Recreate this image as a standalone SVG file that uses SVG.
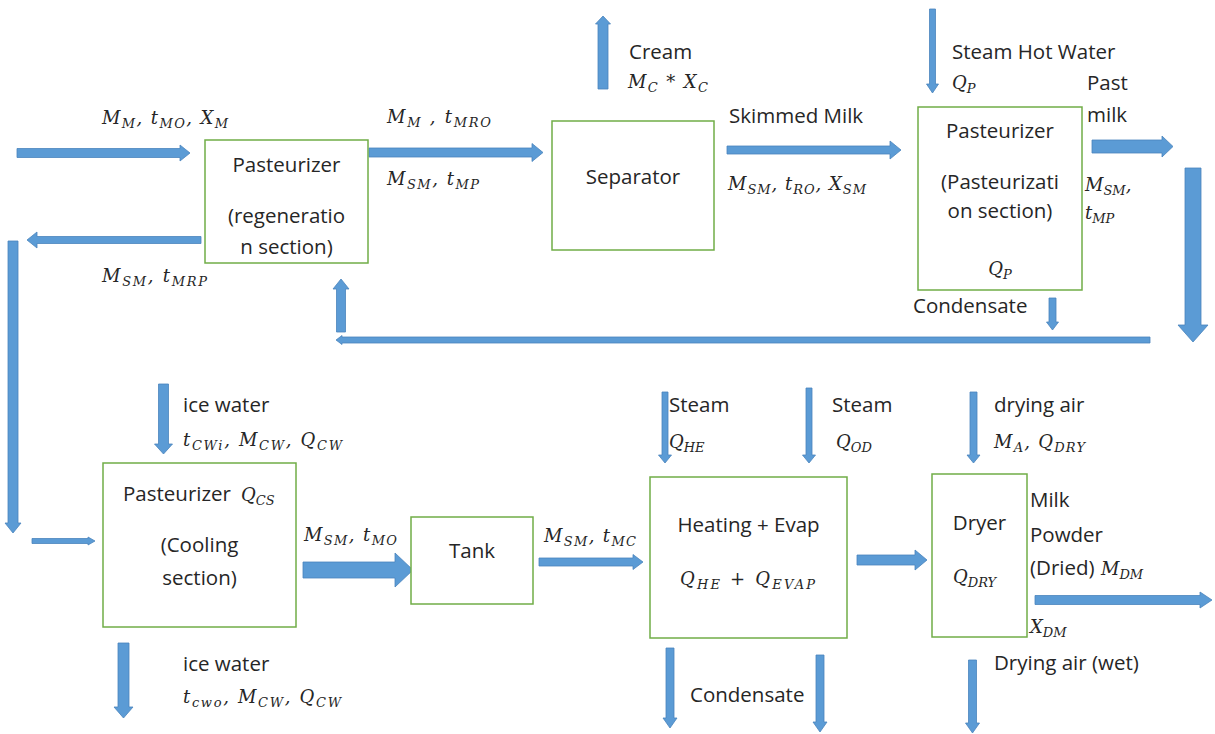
<svg xmlns="http://www.w3.org/2000/svg" width="1215" height="734" viewBox="0 0 1215 734">
<style>
.bg{fill:#ffffff}
.box{fill:#ffffff;stroke:#70AD47;stroke-width:1.5}
.arr{fill:#5B9BD5;stroke:#4A84BC;stroke-width:0.8;stroke-linejoin:miter}
.t{font-family:"Open Sans","Liberation Sans",sans-serif;font-size:20.5px;fill:#262626}
.c{text-anchor:middle}
.m{font-family:"DejaVu Serif","Liberation Serif",serif;font-style:italic;font-size:18px;fill:#262626}
.s{font-size:13px}
</style>
<rect class="bg" x="0" y="0" width="1215" height="734"/>

<g id="connectors">
  <polygon class="arr" points="17,148.5 180,148.5 180,145 190,153 180,161 180,157.5 17,157.5"/>
  <polygon class="arr" points="369,148 532,148 532,143.5 543,152.5 532,161.5 532,157 369,157"/>
  <polygon class="arr" points="727,146 890,146 890,141 901,150 890,159 890,154 727,154"/>
  <polygon class="arr" points="598,89 608,89 608,24 610.5,24 603,16 595.5,24 598,24"/>
  <polygon class="arr" points="929.5,9 935.5,9 935.5,84 938.5,84 932.5,93 926.5,84 929.5,84"/>
  <polygon class="arr" points="1092,140 1162,140 1162,136 1173,146.5 1162,157 1162,153 1092,153"/>
  <polygon class="arr" points="1185,168 1201,168 1201,325 1208,325 1193,342 1178,325 1185,325"/>
  <polygon class="arr" points="1049,298 1056,298 1056,322 1058.5,322 1052.5,330 1046.5,322 1049,322"/>
  <polygon class="arr" points="1150,337 342,337 342,335.5 336,340 342,344.5 342,343 1150,343"/>
  <polygon class="arr" points="336.5,332 345.5,332 345.5,289 349,289 341,279 333,289 336.5,289"/>
  <polygon class="arr" points="201,236.5 37,236.5 37,232 27,240 37,248 37,243.5 201,243.5"/>
  <polygon class="arr" points="8,241 18,241 18,523 21,523 13,533 5,523 8,523"/>
  <polygon class="arr" points="32,538.5 88,538.5 88,537 95,541 88,545 88,543.5 32,543.5"/>
  <polygon class="arr" points="158.5,384 168.5,384 168.5,444 172.5,444 163.5,454 154.5,444 158.5,444"/>
  <polygon class="arr" points="118,643 129,643 129,707 133,707 123.5,718 114,707 118,707"/>
  <polygon class="arr" points="303,562 395,562 395,553 413,570 395,587 395,578 303,578"/>
  <polygon class="arr" points="539,558 633,558 633,554.5 643,562 633,569.5 633,566 539,566"/>
  <polygon class="arr" points="662,392 668,392 668,455 671.5,455 665,463 658.5,455 662,455"/>
  <polygon class="arr" points="806,388 812,388 812,455 815.5,455 809,463 802.5,455 806,455"/>
  <polygon class="arr" points="857,555 915,555 915,550 927,560 915,570 915,565 857,565"/>
  <polygon class="arr" points="970,392 977,392 977,455 980,455 973.5,463 967,455 970,455"/>
  <polygon class="arr" points="1035,595.5 1200,595.5 1200,592 1212,600 1200,608 1200,604.5 1035,604.5"/>
  <polygon class="arr" points="666,648 674,648 674,718 677,718 670,728 663,718 666,718"/>
  <polygon class="arr" points="816,655 824,655 824,722 827,722 820,732 813,722 816,722"/>
  <polygon class="arr" points="968.5,660 976.5,660 976.5,723 979.5,723 972.5,733 965.5,723 968.5,723"/>
</g>

<g id="labels">
  <text class="m" x="102" y="124" textLength="126" lengthAdjust="spacing">M<tspan class="s" dy="4">M</tspan><tspan dy="-4">, t</tspan><tspan class="s" dy="4">MO</tspan><tspan dy="-4">, X</tspan><tspan class="s" dy="4">M</tspan></text>
  <text class="m" x="387" y="123" textLength="104" lengthAdjust="spacing">M<tspan class="s" dy="4">M</tspan><tspan dy="-4"> , t</tspan><tspan class="s" dy="4">MRO</tspan></text>
  <text class="m" x="387" y="185" textLength="92" lengthAdjust="spacing">M<tspan class="s" dy="4">SM</tspan><tspan dy="-4">, t</tspan><tspan class="s" dy="4">MP</tspan></text>
  <text class="t" x="629" y="59">Cream</text>
  <text class="m" x="628" y="88" textLength="80" lengthAdjust="spacing">M<tspan class="s" dy="4">C</tspan><tspan dy="-4"> * X</tspan><tspan class="s" dy="4">C</tspan></text>
  <text class="t" x="729" y="123">Skimmed Milk</text>
  <text class="m" x="728" y="190" textLength="138" lengthAdjust="spacing">M<tspan class="s" dy="4">SM</tspan><tspan dy="-4">, t</tspan><tspan class="s" dy="4">RO</tspan><tspan dy="-4">, X</tspan><tspan class="s" dy="4">SM</tspan></text>
  <text class="t" x="952" y="59">Steam Hot Water</text>
  <text class="m" x="952" y="89">Q<tspan class="s" dy="4">P</tspan></text>
  <text class="t" x="1087" y="90">Past</text>
  <text class="t" x="1087" y="122">milk</text>
  <text class="m" x="1085" y="191">M<tspan class="s" dy="4">SM</tspan><tspan dy="-4">,</tspan></text>
  <text class="m" x="1085" y="219">t<tspan class="s" dy="4">MP</tspan></text>
  <text class="t" x="913" y="313">Condensate</text>
  <text class="m" x="102" y="282" textLength="105" lengthAdjust="spacing">M<tspan class="s" dy="4">SM</tspan><tspan dy="-4">, t</tspan><tspan class="s" dy="4">MRP</tspan></text>
  <text class="t" x="183" y="412">ice water</text>
  <text class="m" x="183" y="446" textLength="159" lengthAdjust="spacing">t<tspan class="s" dy="4">CWi</tspan><tspan dy="-4">, M</tspan><tspan class="s" dy="4">CW</tspan><tspan dy="-4">, Q</tspan><tspan class="s" dy="4">CW</tspan></text>
  <text class="m" x="304" y="541" textLength="93" lengthAdjust="spacing">M<tspan class="s" dy="4">SM</tspan><tspan dy="-4">, t</tspan><tspan class="s" dy="4">MO</tspan></text>
  <text class="t" x="183" y="671">ice water</text>
  <text class="m" x="183" y="703" textLength="158" lengthAdjust="spacing">t<tspan class="s" dy="4">cwo</tspan><tspan dy="-4">, M</tspan><tspan class="s" dy="4">CW</tspan><tspan dy="-4">, Q</tspan><tspan class="s" dy="4">CW</tspan></text>
  <text class="m" x="544" y="542" textLength="92" lengthAdjust="spacing">M<tspan class="s" dy="4">SM</tspan><tspan dy="-4">, t</tspan><tspan class="s" dy="4">MC</tspan></text>
  <text class="t" x="669" y="412">Steam</text>
  <text class="m" x="669" y="448">Q<tspan class="s" dy="4">HE</tspan></text>
  <text class="t" x="832" y="412">Steam</text>
  <text class="m" x="836" y="448">Q<tspan class="s" dy="4">OD</tspan></text>
  <text class="t" x="690" y="702">Condensate</text>
  <text class="t" x="994" y="412">drying air</text>
  <text class="m" x="994" y="448" textLength="91" lengthAdjust="spacing">M<tspan class="s" dy="4">A</tspan><tspan dy="-4">, Q</tspan><tspan class="s" dy="4">DRY</tspan></text>
  <text class="t" x="1030" y="507">Milk</text>
  <text class="t" x="1030" y="542">Powder</text>
  <text class="t" x="1030" y="575">(Dried)</text>
  <text class="m" x="1101" y="575">M<tspan class="s" dy="4">DM</tspan></text>
  <text class="m" x="1030" y="633">X<tspan class="s" dy="4">DM</tspan></text>
  <text class="t" x="994" y="670">Drying air (wet)</text>
</g>

<g id="pasteurizer-regeneration">
  <rect class="box" x="205" y="140" width="163" height="123"/>
  <text class="t c" x="286.5" y="172">Pasteurizer</text>
  <text class="t c" x="286.5" y="223">(regeneratio</text>
  <text class="t c" x="286.5" y="254">n section)</text>
</g>

<g id="separator">
  <rect class="box" x="552" y="121" width="162" height="129"/>
  <text class="t c" x="633" y="184">Separator</text>
</g>

<g id="pasteurizer-pasteurization">
  <rect class="box" x="918" y="107" width="164" height="183"/>
  <text class="t c" x="1000" y="138">Pasteurizer</text>
  <text class="t c" x="1000" y="189">(Pasteurizati</text>
  <text class="t c" x="1000" y="218">on section)</text>
  <text class="m c" x="1000" y="275">Q<tspan class="s" dy="4">P</tspan></text>
</g>

<g id="pasteurizer-cooling">
  <rect class="box" x="103" y="463" width="193" height="164"/>
  <text class="t" x="123" y="501">Pasteurizer</text>
  <text class="m" x="241" y="501">Q<tspan class="s" dy="4">CS</tspan></text>
  <text class="t c" x="199.5" y="552">(Cooling</text>
  <text class="t c" x="199.5" y="585">section)</text>
</g>

<g id="tank">
  <rect class="box" x="411" y="517" width="122" height="87"/>
  <text class="t c" x="472" y="558">Tank</text>
</g>

<g id="heating-evap">
  <rect class="box" x="650" y="477" width="197" height="161"/>
  <text class="t c" x="748.5" y="532">Heating + Evap</text>
  <text class="m" x="680" y="585" textLength="135" lengthAdjust="spacing">Q<tspan class="s" dy="4">HE</tspan><tspan dy="-4"> + Q</tspan><tspan class="s" dy="4">EVAP</tspan></text>
</g>

<g id="dryer">
  <rect class="box" x="932" y="474" width="95" height="163"/>
  <text class="t c" x="979.5" y="530">Dryer</text>
  <text class="m" x="953" y="583">Q<tspan class="s" dy="4">DRY</tspan></text>
</g>
</svg>
